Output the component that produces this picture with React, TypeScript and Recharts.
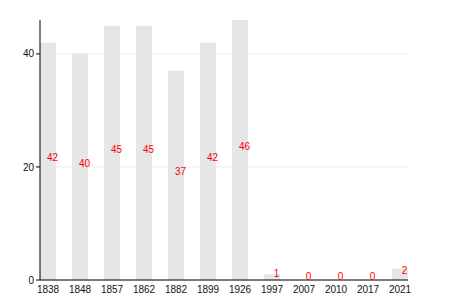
import { ComposedChart, Bar, Line, XAxis, YAxis, CartesianGrid } from "recharts"

const years = ["1838", "1848", "1857", "1862", "1882", "1899", "1926", "1997", "2007", "2010", "2017", "2021"]
const counts = [42, 40, 45, 45, 37, 42, 46, 1, 0, 0, 0, 2]
const yTicks = [0, 20, 40]
const yMax = 46

const data = years.map((y, i) => ({ idx: i, year: y, count: counts[i], mid: counts[i] / 2 }))

const font = "Liberation Sans, Arial, sans-serif"

const MidLabel = (props: any) => {
  const { x, y, index } = props
  return (
    <text x={x + 4.5} y={y} textAnchor="middle" fill="#ff0000" fontSize={10} fontFamily={font}>
      {counts[index]}
    </text>
  )
}

const gridRows = ({ yAxis, offset }: any) =>
  yTicks.map((t) => {
    const s = yAxis && yAxis.scale
    if (typeof s === "function") return s(t)
    if (s && typeof s.map === "function") return s.map(t)
    return offset.top + offset.height * (1 - t / yMax)
  })

export default function App() {
  return (
    <div style={{ position: "fixed", left: 0, top: 0, background: "#fff" }}>
      <ComposedChart width={450} height={300} data={data} margin={{ top: 20, right: 42, bottom: 0, left: 0 }}>
        <CartesianGrid vertical={false} stroke="#ebebeb" horizontalCoordinatesGenerator={gridRows} />
        <XAxis
          type="number"
          dataKey="idx"
          domain={[-0.25, 11.25]}
          ticks={years.map((_, i) => i)}
          tickFormatter={(i) => years[i]}
          interval={0}
          height={20}
          tickLine={false}
          axisLine={{ stroke: "#000" }}
          tick={{ fontSize: 10, fill: "#111", fontFamily: font }}
          tickMargin={0}
        />
        <YAxis
          domain={[0, yMax]}
          ticks={yTicks}
          width={40}
          axisLine={{ stroke: "#000" }}
          tickLine={{ stroke: "#000" }}
          tickSize={4}
          tick={{ fontSize: 10, fill: "#111", fontFamily: font }}
        />
        <Bar dataKey="count" fill="#e6e6e6" barSize={16} isAnimationActive={false} />
        <Line
          dataKey="mid"
          stroke="none"
          dot={false}
          activeDot={false}
          isAnimationActive={false}
          label={MidLabel}
        />
      </ComposedChart>
    </div>
  )
}
